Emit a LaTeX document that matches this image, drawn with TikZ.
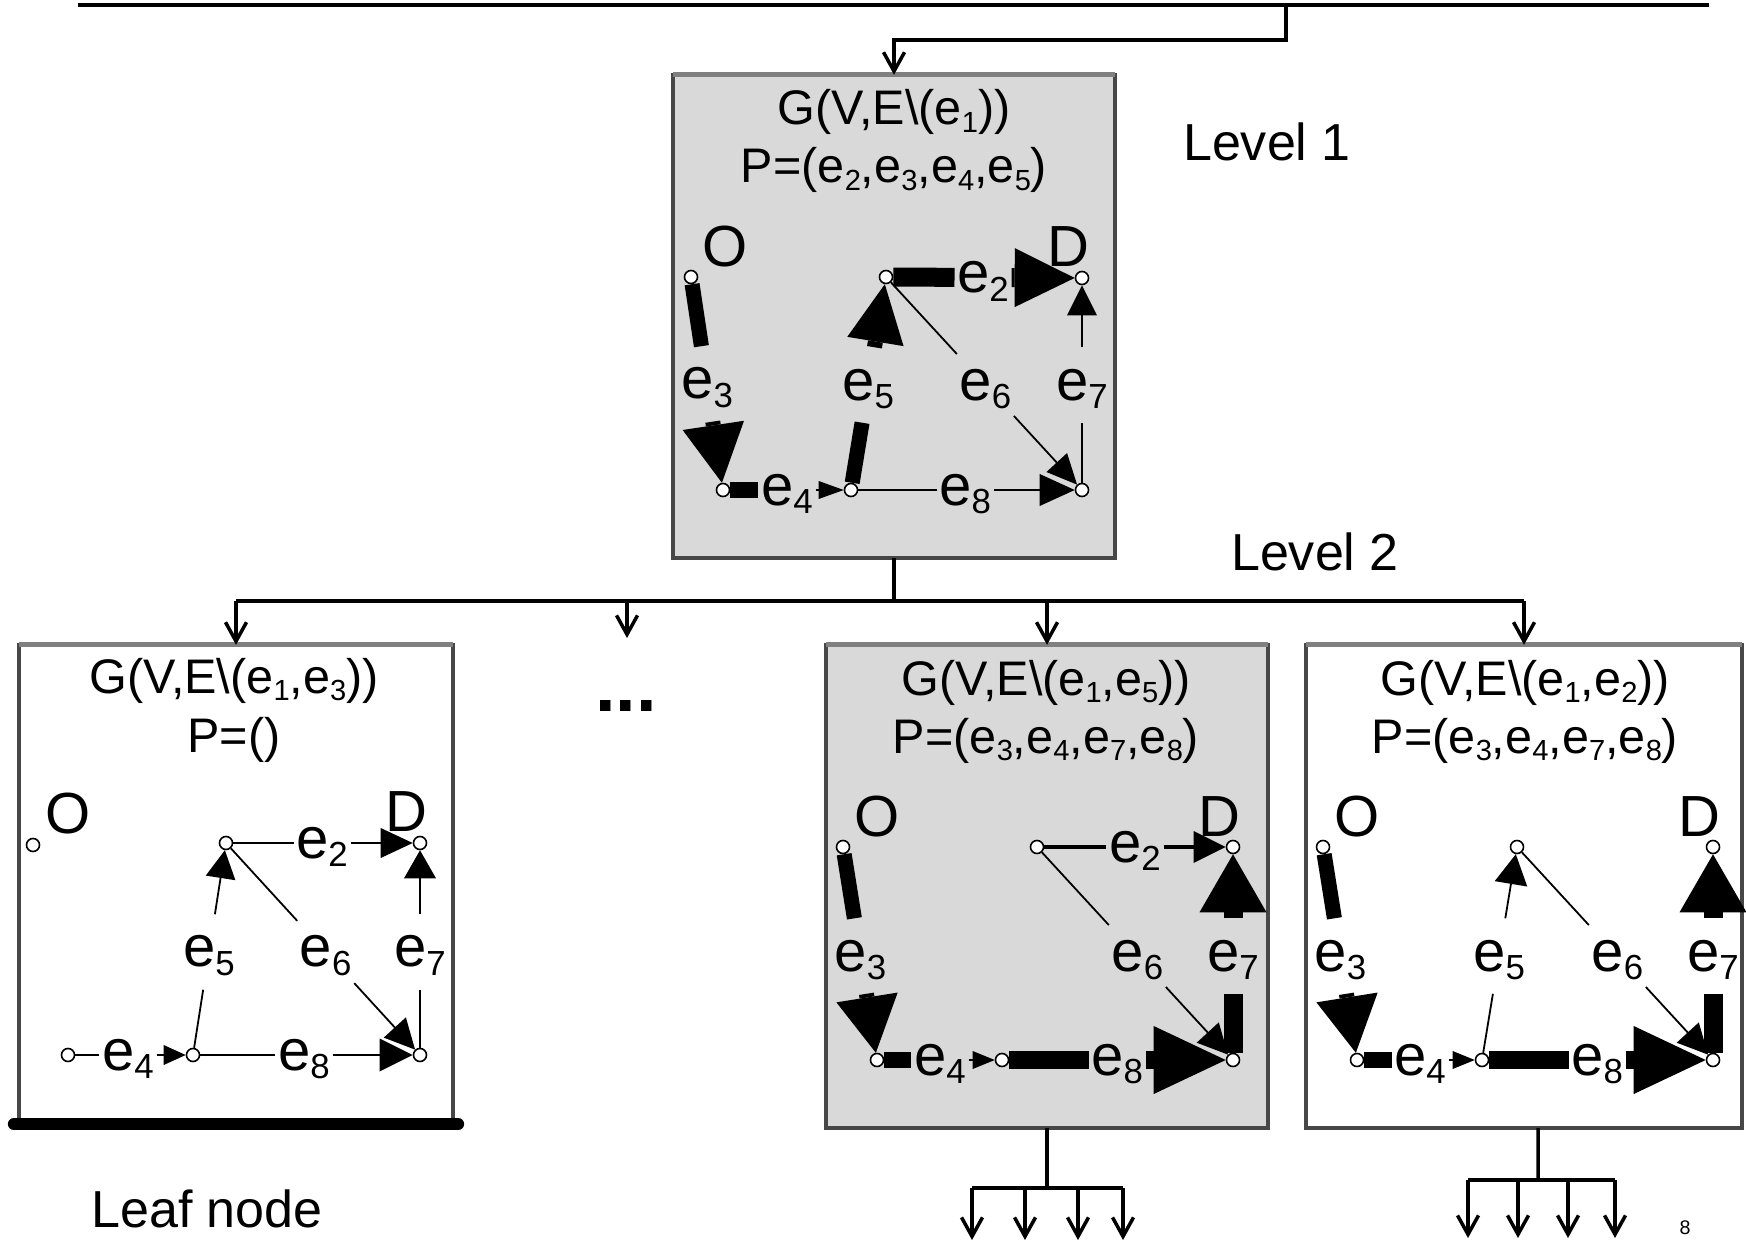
\documentclass[tikz,border=0pt]{standalone}
\usepackage{fontspec}
\setmainfont{Liberation Sans}
\usetikzlibrary{arrows.meta}
\pgfdeclarelayer{boxes}
\pgfdeclarelayer{edges}
\pgfsetlayers{boxes,edges,main}
\newcommand\glfont{\fontsize{16.5pt}{19pt}\selectfont}
\newcommand\ttlfont{\fontsize{13.8pt}{16pt}\selectfont}
\newcommand\lvfont{\fontsize{14.8pt}{17pt}\selectfont}
\newcommand\mysub[1]{\raisebox{-0.15em}{\scalebox{0.6}{#1}}}
\newcommand\gedge[7]{%
  \path (#1.center) -- (#2.center) node[gl,pos=#5] (#3) {#4};
  \draw[#6] (#1) -- (#3);
  \draw[#7] (#3) -- (#2);
}
\tikzset{
  gv/.style={circle,draw,fill=white,line width=0.016cm,inner sep=0pt,minimum size=0.13cm},
  gl/.style={font=\glfont,inner xsep=0.02cm,inner ysep=0.22cm,text height=0.30cm,text depth=0pt},
  gt/.style={font=\glfont,inner sep=0pt},
  ttl/.style={font=\ttlfont,inner sep=0pt,anchor=base},
  lv/.style={font=\lvfont,inner sep=0pt,anchor=base},
  gbox/.style={draw=black!72,line width=0.04cm,inner sep=0pt,outer sep=0pt},
  gtop/.style={black!50,line width=0.05cm},
  conn/.style={line width=0.035cm},
  carr/.style={conn,-{Straight Barb[length=0.19cm,width=0.21cm]}},
  fine/.style={line width=0.018cm},
  tipv/.style 2 args={-{Triangle[length=#1,width=#2,line width=0pt]}},
}
\begin{document}
\begin{tikzpicture}[x=0.01cm,y=-0.01cm]
\useasboundingbox (0,0) rectangle (1746,1243);

% ---------- boxes ----------
\begin{pgfonlayer}{boxes}
\node[gbox,fill=black!15,minimum width=4.42cm,minimum height=4.83cm] (lvl1) at (894,316.5) {};
\draw[gtop] (lvl1.north west) -- (lvl1.north east);
\node[gbox,fill=white,minimum width=4.34cm,minimum height=4.79cm] (lf) at (236,884.5) {};
\draw[gtop] (lf.north west) -- (lf.north east);
\draw[line width=0.12cm,line cap=round] ([xshift=-0.05cm]lf.south west) -- ([xshift=0.05cm]lf.south east);
\node[gbox,fill=black!15,minimum width=4.42cm,minimum height=4.83cm] (bx3) at (1047,886.5) {};
\draw[gtop] (bx3.north west) -- (bx3.north east);
\node[gbox,fill=white,minimum width=4.36cm,minimum height=4.83cm] (bx4) at (1524,886.5) {};
\draw[gtop] (bx4.north west) -- (bx4.north east);
\end{pgfonlayer}

% ---------- connectors ----------
\coordinate (t0) at (78,5);
\coordinate (t1) at (1709,5);
\coordinate (tj) at (1286,5);
\coordinate (tk) at (1286,40);
\coordinate (tm) at (894,40);
\draw[conn] (t0) -- (t1);
\draw[carr] (tj) -- (tk) -- (tm) -- (lvl1.north);

\coordinate (h0) at (894,601);
\coordinate (hL) at (236,601);
\coordinate (hD) at (627,601);
\coordinate (h3) at (1047,601);
\coordinate (hR) at (1524,601);
\coordinate (dt) at (627,638);
\draw[conn] (lvl1.south) -- (h0);
\draw[conn] (hL) -- (hR);
\draw[carr] (hL) -- (lf.north);
\draw[carr] (hD) -- (dt);
\draw[carr] (h3) -- (bx3.north);
\draw[carr] (hR) -- (bx4.north);

\coordinate (j3) at (1047,1188);
\coordinate (k3a) at (972,1188);
\coordinate (k3b) at (1025,1188);
\coordinate (k3c) at (1078,1188);
\coordinate (k3d) at (1123,1188);
\coordinate (m3a) at (972,1240);
\coordinate (m3b) at (1025,1240);
\coordinate (m3c) at (1078,1240);
\coordinate (m3d) at (1123,1240);
\draw[conn] (bx3.south) -- (j3);
\draw[conn] (k3a) -- (k3d);
\foreach \s in {a,b,c,d} {\draw[carr] (k3\s) -- (m3\s);}

\coordinate (j4) at (1538,1180);
\coordinate (k4a) at (1468,1180);
\coordinate (k4b) at (1518,1180);
\coordinate (k4c) at (1568,1180);
\coordinate (k4d) at (1615,1180);
\coordinate (m4a) at (1468,1238);
\coordinate (m4b) at (1518,1238);
\coordinate (m4c) at (1568,1238);
\coordinate (m4d) at (1615,1238);
\draw[conn] ([xshift=0.14cm]bx4.south) -- (j4);
\draw[conn] (k4a) -- (k4d);
\foreach \s in {a,b,c,d} {\draw[carr] (k4\s) -- (m4\s);}

% ---------- free texts ----------
\node[lv] (lv1) at (1267,161) {Level 1};
\node[lv] (lv2) at (1315,570) {Level 2};
\node[lv] (leaf) at (207,1227) {Leaf node};
\node[font=\fontsize{21pt}{24pt}\selectfont\bfseries,inner sep=0pt,anchor=base] (dots) at (626,711) {...};
\node[font=\fontsize{5.6pt}{7pt}\selectfont,inner sep=0pt] (pg) at (1685,1228) {8};

% ---------- box 1 (Level 1) ----------
\node[ttl] (a1t) at (894,125) {G(V,E\textbackslash(e\mysub{1}))};
\node[ttl] (a1p) at (894,183) {P=(e\mysub{2},e\mysub{3},e\mysub{4},e\mysub{5})};
\node[gv] (aO) at (691,277) {};
\node[gv] (aA) at (886,277) {};
\node[gv] (aD) at (1082,278) {};
\node[gv] (aB) at (723,490) {};
\node[gv] (aC) at (851,490) {};
\node[gv] (aF) at (1082,490) {};
\node[gt] (aOl) at (725,247) {O};
\node[gt] (aDl) at (1068,247) {D};
\begin{pgfonlayer}{edges}
\gedge{aO}{aB}{a3}{e\mysub{3}}{0.502}{line width=0.15cm}{line width=0.15cm,tipv={0.58cm}{0.62cm}}
\gedge{aC}{aA}{a5}{e\mysub{5}}{0.493}{line width=0.15cm}{line width=0.15cm,tipv={0.58cm}{0.57cm}}
\gedge{aA}{aD}{a2}{e\mysub{2}}{0.495}{line width=0.19cm}{line width=0.19cm,tipv={0.6cm}{0.59cm}}
\gedge{aB}{aC}{a4}{e\mysub{4}}{0.5}{line width=0.16cm}{fine,tipv={0.25cm}{0.18cm}}
\gedge{aC}{aF}{a8}{e\mysub{8}}{0.494}{fine}{fine,tipv={0.35cm}{0.32cm}}
\gedge{aA}{aF}{a6}{e\mysub{6}}{0.507}{fine}{fine,tipv={0.3cm}{0.28cm}}
\gedge{aF}{aD}{a7}{e\mysub{7}}{0.495}{fine}{fine,tipv={0.3cm}{0.3cm}}
\end{pgfonlayer}

% ---------- box 2 (leaf) ----------
\node[ttl] (b1t) at (234,693) {G(V,E\textbackslash(e\mysub{1},e\mysub{3}))};
\node[ttl] (b1p) at (234,752) {P=()};
\node[gv] (bO) at (33,845) {};
\node[gv] (bA) at (226,843) {};
\node[gv] (bD) at (420,843) {};
\node[gv] (bB) at (68,1055) {};
\node[gv] (bC) at (193,1055) {};
\node[gv] (bF) at (420,1055) {};
\node[gt] (bOl) at (68,814) {O};
\node[gt] (bDl) at (406,812) {D};
\begin{pgfonlayer}{edges}
\gedge{bA}{bD}{b2}{e\mysub{2}}{0.495}{fine}{fine,tipv={0.32cm}{0.30cm}}
\gedge{bB}{bC}{b4}{e\mysub{4}}{0.48}{fine}{fine,tipv={0.22cm}{0.20cm}}
\gedge{bC}{bA}{b5}{e\mysub{5}}{0.486}{fine}{fine,tipv={0.28cm}{0.30cm}}
\gedge{bA}{bF}{b6}{e\mysub{6}}{0.514}{fine}{fine,tipv={0.30cm}{0.30cm}}
\gedge{bF}{bD}{b7}{e\mysub{7}}{0.486}{fine}{fine,tipv={0.28cm}{0.32cm}}
\gedge{bC}{bF}{b8}{e\mysub{8}}{0.489}{fine}{fine,tipv={0.33cm}{0.33cm}}
\end{pgfonlayer}

% ---------- box 3 ----------
\node[ttl] (c1t) at (1046,695) {G(V,E\textbackslash(e\mysub{1},e\mysub{5}))};
\node[ttl] (c1p) at (1046,753) {P=(e\mysub{3},e\mysub{4},e\mysub{7},e\mysub{8})};
\node[gv] (cO) at (843,847) {};
\node[gv] (cA) at (1037,847) {};
\node[gv] (cD) at (1233,847) {};
\node[gv] (cB) at (877,1060) {};
\node[gv] (cC) at (1002,1060) {};
\node[gv] (cF) at (1233,1060) {};
\node[gt] (cOl) at (877,817) {O};
\node[gt] (cDl) at (1219,817) {D};
\begin{pgfonlayer}{edges}
\gedge{cO}{cB}{c3}{e\mysub{3}}{0.512}{line width=0.15cm}{line width=0.15cm,tipv={0.56cm}{0.62cm}}
\gedge{cB}{cC}{c4}{e\mysub{4}}{0.504}{line width=0.16cm}{fine,tipv={0.22cm}{0.18cm}}
\gedge{cC}{cF}{c8}{e\mysub{8}}{0.498}{line width=0.18cm}{line width=0.18cm,tipv={0.72cm}{0.68cm}}
\gedge{cF}{cD}{c7}{e\mysub{7}}{0.488}{line width=0.19cm}{line width=0.19cm,tipv={0.58cm}{0.67cm}}
\gedge{cA}{cD}{c2}{e\mysub{2}}{0.5}{line width=0.045cm}{line width=0.045cm,tipv={0.32cm}{0.32cm}}
\gedge{cA}{cF}{c6}{e\mysub{6}}{0.512}{fine}{fine,tipv={0.30cm}{0.30cm}}
\end{pgfonlayer}

% ---------- box 4 ----------
\node[ttl] (d1t) at (1525,695) {G(V,E\textbackslash(e\mysub{1},e\mysub{2}))};
\node[ttl] (d1p) at (1525,753) {P=(e\mysub{3},e\mysub{4},e\mysub{7},e\mysub{8})};
\node[gv] (dO) at (1323,847) {};
\node[gv] (dA) at (1517,847) {};
\node[gv] (dD) at (1713,847) {};
\node[gv] (dB) at (1357,1060) {};
\node[gv] (dC) at (1482,1060) {};
\node[gv] (dF) at (1713,1060) {};
\node[gt] (dOl) at (1357,817) {O};
\node[gt] (dDl) at (1699,817) {D};
\begin{pgfonlayer}{edges}
\gedge{dO}{dB}{d3}{e\mysub{3}}{0.512}{line width=0.15cm}{line width=0.15cm,tipv={0.56cm}{0.62cm}}
\gedge{dB}{dC}{d4}{e\mysub{4}}{0.504}{line width=0.16cm}{fine,tipv={0.22cm}{0.18cm}}
\gedge{dC}{dF}{d8}{e\mysub{8}}{0.498}{line width=0.18cm}{line width=0.18cm,tipv={0.72cm}{0.68cm}}
\gedge{dF}{dD}{d7}{e\mysub{7}}{0.488}{line width=0.19cm}{line width=0.19cm,tipv={0.58cm}{0.67cm}}
\gedge{dC}{dA}{d5}{e\mysub{5}}{0.488}{fine}{fine,tipv={0.30cm}{0.33cm}}
\gedge{dA}{dF}{d6}{e\mysub{6}}{0.512}{fine}{fine,tipv={0.30cm}{0.30cm}}
\end{pgfonlayer}
\end{tikzpicture}
\end{document}
